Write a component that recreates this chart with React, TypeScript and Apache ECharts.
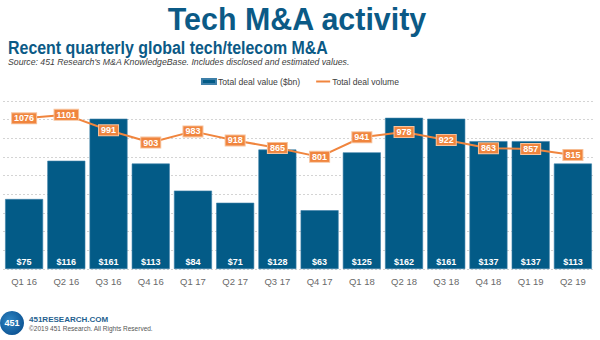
import React, { useEffect, useRef } from "react";
import * as echarts from "echarts";

const categories = ["Q1 16", "Q2 16", "Q3 16", "Q4 16", "Q1 17", "Q2 17", "Q3 17", "Q4 17", "Q1 18", "Q2 18", "Q3 18", "Q4 18", "Q1 19", "Q2 19"];
const dealValue = [75, 116, 161, 113, 84, 71, 128, 63, 125, 162, 161, 137, 137, 113];
const dealVolume = [1076, 1101, 991, 903, 983, 918, 865, 801, 941, 978, 922, 863, 857, 815];

const BLUE = "#035B87";
const ORANGE = "#F0853E";

export default function App() {
  const ref = useRef<HTMLDivElement>(null);
  useEffect(() => {
    if (!ref.current) return;
    const chart = echarts.init(ref.current, undefined, { renderer: "svg" });
    chart.setOption({
      animation: false,
      backgroundColor: "#ffffff",
      textStyle: { fontFamily: "Liberation Sans, Arial, sans-serif" },
      legend: {
        top: 72,
        left: "center",
        itemGap: 16,
        itemWidth: 14,
        itemHeight: 5,
        textStyle: { fontSize: 8.6, color: "#404040", padding: [0, 0, 0, -3] },
        data: [
          { name: "Total deal value ($bn)", icon: "rect" },
          { name: "Total deal volume", icon: "path://M0,0 L14,0 L14,2 L0,2 Z", itemStyle: { color: ORANGE } },
        ],
      },
      grid: { left: 3, right: 6, top: 101, bottom: 71 },
      xAxis: {
        type: "category",
        data: categories,
        axisLine: { show: false },
        axisTick: { show: false },
        axisLabel: { color: "#6a6a6a", fontSize: 9.5, margin: 7 },
      },
      yAxis: [
        {
          type: "value",
          min: 0,
          max: 180,
          interval: 20,
          axisLabel: { show: false },
          axisLine: { show: false },
          axisTick: { show: false },
          splitLine: { lineStyle: { color: "#d4d4d4", type: [2, 2], width: 1 } },
        },
        {
          type: "value",
          min: 0,
          max: 1200,
          axisLabel: { show: false },
          axisLine: { show: false },
          axisTick: { show: false },
          splitLine: { show: false },
        },
      ],
      series: [
        {
          name: "Total deal value ($bn)",
          type: "bar",
          data: dealValue,
          barCategoryGap: "10%",
          itemStyle: { color: BLUE, borderColor: "#3d7fa8", borderWidth: 0.6 },
          label: {
            show: true,
            position: "insideBottom",
            distance: 3,
            color: "#ffffff",
            fontSize: 9,
            fontWeight: "bold",
            formatter: (p: any) => "$" + p.value,
          },
        },
        {
          name: "Total deal volume",
          type: "line",
          yAxisIndex: 1,
          data: dealVolume,
          symbol: "circle",
          symbolSize: 1,
          showSymbol: true,
          lineStyle: { color: ORANGE, width: 2 },
          itemStyle: { color: ORANGE },
          z: 5,
          label: {
            show: true,
            position: "inside",
            color: "#ffffff",
            fontSize: 9,
            fontWeight: "bold",
            backgroundColor: ORANGE,
            borderColor: "#f7c29c",
            borderWidth: 1,
            padding: [1, 2, 0, 2],
          },
        },
      ],
      graphic: [
        {
          type: "text",
          x: 297,
          y: 3,
          scaleX: 0.95,
          style: {
            text: "Tech M&A activity",
            fill: "#0B5A86",
            font: "bold 32px Liberation Sans, Arial, sans-serif",
            textAlign: "center",
            textVerticalAlign: "top",
          },
        },
        {
          type: "text",
          x: 8,
          y: 38,
          scaleX: 0.84,
          style: {
            text: "Recent quarterly global tech/telecom M&A",
            fill: "#0B5A86",
            font: "bold 19px Liberation Sans, Arial, sans-serif",
            textAlign: "left",
            textVerticalAlign: "top",
          },
        },
        {
          type: "text",
          x: 8,
          y: 57,
          style: {
            text: "Source: 451 Research's M&A KnowledgeBase. Includes disclosed and estimated values.",
            fill: "#404040",
            font: "italic 8.7px Liberation Sans, Arial, sans-serif",
            textAlign: "left",
            textVerticalAlign: "top",
          },
        },
        {
          type: "circle",
          shape: { cx: 12, cy: 323, r: 12 },
          style: {
            fill: new echarts.graphic.RadialGradient(0.4, 0.4, 0.7, [
              { offset: 0, color: "#2f86c4" },
              { offset: 1, color: "#0a4f8f" },
            ]),
          },
        },
        {
          type: "text",
          x: 12,
          y: 323,
          style: {
            text: "451",
            fill: "#ffffff",
            font: "bold 9px Liberation Sans, Arial, sans-serif",
            textAlign: "center",
            textVerticalAlign: "middle",
          },
        },
        {
          type: "text",
          x: 29,
          y: 319,
          style: {
            text: "451RESEARCH.COM",
            fill: "#1F5F8F",
            font: "bold 8px Liberation Sans, Arial, sans-serif",
            textAlign: "left",
            textVerticalAlign: "middle",
          },
        },
        {
          type: "text",
          x: 29,
          y: 328,
          style: {
            text: "©2019 451 Research. All Rights Reserved.",
            fill: "#555555",
            font: "6.5px Liberation Sans, Arial, sans-serif",
            textAlign: "left",
            textVerticalAlign: "middle",
          },
        },
      ],
    });
    return () => chart.dispose();
  }, []);
  return <div ref={ref} style={{ width: 600, height: 340, position: "absolute", left: 0, top: 0 }} />;
}
